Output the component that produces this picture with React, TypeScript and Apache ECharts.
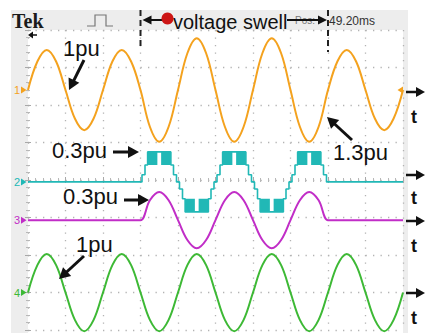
import React, { useEffect, useRef } from "react";
import * as echarts from "echarts";

// Time axis in screen divisions (10 div across, 1 cycle = 2 div)
const timeDiv = [0, 0.25, 0.5, 0.75, 1, 1.25, 1.5, 1.75, 2, 2.25, 2.5, 2.75, 3, 3.25, 3.5, 3.75, 4, 4.25, 4.5, 4.75, 5, 5.25, 5.5, 5.75, 6, 6.25, 6.5, 6.75, 7, 7.25, 7.5, 7.75, 8, 8.25, 8.5, 8.75, 9, 9.25, 9.5, 9.75, 10];

// CH1: grid voltage (1pu, swells to 1.3pu between the cursors) — divisions about its ground level
const ch1Values = [0, 0.76, 1.07, 0.76, 0, -0.76, -1.07, -0.76, 0, 0.76, 1.07, 0.76, 0, -0.98, -1.38, -0.98, 0, 0.98, 1.38, 0.98, 0, -0.98, -1.38, -0.98, 0, 0.98, 1.38, 0.98, 0, -0.98, -1.38, -0.98, 0, 0.76, 1.07, 0.76, 0, -0.76, -1.07, -0.76, 0];

// CH2: multilevel inverter output (stair steps)
const ch2StepTime = [0, 3.04, 3.12, 3.19, 3.81, 3.88, 3.96, 4.04, 4.12, 4.19, 4.81, 4.88, 4.96, 5.04, 5.12, 5.19, 5.81, 5.88, 5.96, 6.04, 6.12, 6.19, 6.81, 6.88, 6.96, 7.04, 7.12, 7.19, 7.81, 7.88, 7.96, 10];
const ch2StepLevel = [0, 0.19, 0.45, 0.8, 0.45, 0.19, 0, -0.19, -0.45, -0.8, -0.45, -0.19, 0, 0.19, 0.45, 0.8, 0.45, 0.19, 0, -0.19, -0.45, -0.8, -0.45, -0.19, 0, 0.19, 0.45, 0.8, 0.45, 0.19, 0, 0];
// CH2: PWM switching bands [start, end, low, high]
const ch2PwmBands = [
  [3.19, 3.45, 0.45, 0.8], [3.55, 3.81, 0.45, 0.8],
  [4.19, 4.45, -0.8, -0.45], [4.55, 4.81, -0.8, -0.45],
  [5.19, 5.45, 0.45, 0.8], [5.55, 5.81, 0.45, 0.8],
  [6.19, 6.45, -0.8, -0.45], [6.55, 6.81, -0.8, -0.45],
  [7.19, 7.45, 0.45, 0.8], [7.55, 7.81, 0.45, 0.8],
];

// CH3: injected voltage (0.3pu) during the swell
const ch3Values = [0, 0, 0, 0, 0, 0, 0, 0, 0, 0, 0, 0, 0, 0.53, 0.75, 0.53, 0, -0.53, -0.75, -0.53, 0, 0.53, 0.75, 0.53, 0, -0.53, -0.75, -0.53, 0, 0.53, 0.75, 0.53, 0, 0, 0, 0, 0, 0, 0, 0, 0];

// CH4: load voltage (1pu)
const ch4Values = [0, 0.73, 1.03, 0.73, 0, -0.73, -1.03, -0.73, 0, 0.73, 1.03, 0.73, 0, -0.73, -1.03, -0.73, 0, 0.73, 1.03, 0.73, 0, -0.73, -1.03, -0.73, 0, 0.73, 1.03, 0.73, 0, -0.73, -1.03, -0.73, 0, 0.73, 1.03, 0.73, 0, -0.73, -1.03, -0.73, 0];

// Channel ground-level positions (divisions from screen centre)
const channelPos = [2.4, -0.05, -1.07, -3.0];
const channelNames = ["1", "2", "3", "4"];
const swellCursors = [3, 8];

const ORANGE = "#F4A21E";
const CYAN = "#21B8B6";
const MAGENTA = "#C12DC7";
const GREEN = "#3DB935";
const channelColors = [ORANGE, CYAN, MAGENTA, GREEN];

function arrow(x1: number, y1: number, x2: number, y2: number, head = 11, hw = 6, lw = 3, color = "#111") {
  const dx = x2 - x1, dy = y2 - y1;
  const len = Math.sqrt(dx * dx + dy * dy);
  const ux = dx / len, uy = dy / len;
  const bx = x2 - ux * head, by = y2 - uy * head;
  const nx = -uy, ny = ux;
  return [
    { type: "line", z: 100, shape: { x1, y1, x2: bx + ux * 1, y2: by + uy * 1 }, style: { stroke: color, lineWidth: lw } },
    { type: "polygon", z: 100, shape: { points: [[x2, y2], [bx + nx * hw, by + ny * hw], [bx - nx * hw, by - ny * hw]] }, style: { fill: color } },
  ];
}

function label(text: string, x: number, baseline: number, size = 22) {
  return {
    type: "text", z: 100, x, y: baseline - size * 0.35,
    style: { text, fill: "#111", font: `${size}px "Liberation Sans", Arial, sans-serif`, align: "left", verticalAlign: "middle" },
  };
}

export default function App() {
  const ref = useRef<HTMLDivElement>(null);
  useEffect(() => {
    document.body.style.margin = "0";
    const chart = echarts.init(ref.current!, null, { renderer: "svg" });
    const dotted = { show: true, lineStyle: { color: "#b3b3b3", width: 1.3, type: [1.3, 6.2] } };
    const tick = { show: true, inside: true, length: 3, lineStyle: { color: "#a8a8a8" } };
    const minor = { show: true, splitNumber: 5, length: 2, lineStyle: { color: "#b8b8b8" } };
    const xAx = (pos: string, split: boolean) => ({
      type: "value", position: pos, min: 0, max: 10, interval: 1,
      axisLabel: { show: false }, axisLine: { show: false }, axisTick: tick, minorTick: minor,
      splitLine: split ? dotted : { show: false },
    });
    const yAx = (pos: string, split: boolean) => ({
      type: "value", position: pos, min: -4, max: 4, interval: 1,
      axisLabel: { show: false }, axisLine: { show: false }, axisTick: tick, minorTick: minor,
      splitLine: split ? dotted : { show: false },
    });

    const lineSeries = (values: number[], ch: number) => ({
      type: "line", xAxisIndex: 0, yAxisIndex: 0, showSymbol: false, smooth: 0.37, clip: false, z: 5,
      lineStyle: { color: channelColors[ch], width: 2 },
      data: timeDiv.map((t, i) => [t, values[i] + channelPos[ch]]),
    });

    chart.setOption({
      animation: false,
      backgroundColor: "#ffffff",
      grid: { left: 28, top: 30, width: 375, height: 300, containLabel: false },
      xAxis: [xAx("bottom", true), xAx("top", false)],
      yAxis: [yAx("left", true), yAx("right", false)],
      series: [
        lineSeries(ch1Values, 0),
        {
          type: "line", step: "end", showSymbol: false, clip: false, z: 5,
          lineStyle: { color: CYAN, width: 1.6 },
          data: ch2StepTime.map((t, i) => [t, ch2StepLevel[i] + channelPos[1]]),
        },
        {
          type: "custom", z: 5, clip: false,
          data: ch2PwmBands.map((b) => [b[0], b[1], b[2] + channelPos[1], b[3] + channelPos[1]]),
          encode: { x: [0, 1], y: [2, 3] },
          renderItem: (_p: any, api: any) => {
            const a = api.coord([api.value(0), api.value(3)]);
            const b = api.coord([api.value(1), api.value(2)]);
            return { type: "rect", shape: { x: a[0], y: a[1], width: b[0] - a[0], height: b[1] - a[1] }, style: { fill: CYAN } };
          },
        },
        lineSeries(ch3Values, 2),
        lineSeries(ch4Values, 3),
      ],
    });

    const px = (t: number) => chart.convertToPixel({ xAxisIndex: 0 }, t) as unknown as number;
    const py = (v: number) => chart.convertToPixel({ yAxisIndex: 0 }, v) as unknown as number;
    const xs = px(swellCursors[0]);
    const xe = px(swellCursors[1]);

    const graphic: any[] = [
      { type: "rect", z: -20, shape: { x: 11, y: 10, width: 397, height: 330 }, style: { fill: "#ededed" } },
      { type: "rect", z: -19, shape: { x: 28, y: 30, width: 375, height: 310 }, style: { fill: "#ffffff" } },
      { type: "text", z: 100, x: 12, y: 21, style: { text: "Tek", fill: "#1b1b1b", font: 'bold 20px "Liberation Serif", serif', verticalAlign: "middle" } },
      { type: "polyline", z: 100, shape: { points: [[87, 26], [95, 26], [95, 15], [106, 15], [106, 26], [113, 26]] }, style: { stroke: "#777", lineWidth: 1.2, fill: "none" } },
      ...arrow(37, 35, 28, 35, 5, 3.5, 1.5),
      { type: "line", z: 100, shape: { x1: xs, y1: 10, x2: xs, y2: 50 }, style: { stroke: "#222", lineWidth: 2, lineDash: [6, 4] } },
      { type: "line", z: 100, shape: { x1: xe, y1: 10, x2: xe, y2: 52 }, style: { stroke: "#222", lineWidth: 2, lineDash: [6, 4] } },
      { type: "text", z: 99, x: 295, y: 20, style: { text: "Pos:", fill: "#777", font: '10px "Liberation Sans", sans-serif', verticalAlign: "middle" } },
      ...arrow(172, 20, xs + 2, 20, 9, 4.5, 2),
      ...arrow(287, 20, xe - 1, 20, 9, 4.5, 2),
      { type: "circle", z: 101, shape: { cx: 167.5, cy: 18.5, r: 6 }, style: { fill: "#cc1414" } },
      { type: "text", z: 100, x: 173, y: 22, style: { text: "voltage swell", fill: "#111", font: '20px "Liberation Sans", Arial, sans-serif', verticalAlign: "middle" } },
      { type: "text", z: 100, x: xe + 1, y: 21, style: { text: "49.20ms", fill: "#333", font: '12px "Liberation Sans", sans-serif', verticalAlign: "middle" } },
      { type: "polygon", z: 100, shape: { points: [[403, py(channelPos[0]) - 3.5], [397.5, py(channelPos[0])], [403, py(channelPos[0]) + 3.5]] }, style: { fill: ORANGE } },
    ];

    channelPos.forEach((p, i) => {
      const y = py(p);
      graphic.push({ type: "text", z: 100, x: 17, y, style: { text: channelNames[i], fill: channelColors[i], font: '11px "Liberation Sans", sans-serif', align: "center", verticalAlign: "middle" } });
      graphic.push({ type: "polygon", z: 100, shape: { points: [[21, y - 3.5], [26.5, y], [21, y + 3.5]] }, style: { fill: channelColors[i] } });
    });

    const rightArrowY = [92, 175, 221, 293];
    const tLabelY = [117, 198, 246, 318];
    rightArrowY.forEach((y) => graphic.push(...arrow(406, y, 425, y, 9, 5, 2.5)));
    tLabelY.forEach((y) => graphic.push({ type: "text", z: 100, x: 414, y, style: { text: "t", fill: "#111", font: 'bold 18px "Liberation Sans", Arial, sans-serif', align: "center", verticalAlign: "middle" } }));

    graphic.push(label("1pu", 63, 56));
    graphic.push(...arrow(84, 60, 69, 90));
    graphic.push(label("0.3pu", 52, 158));
    graphic.push(...arrow(113, 152, 139, 152));
    graphic.push(label("0.3pu", 63, 204));
    graphic.push(...arrow(124, 200, 149, 200));
    graphic.push(label("1.3pu", 333, 160));
    graphic.push(...arrow(352, 140, 327, 117));
    graphic.push(label("1pu", 76, 252));
    graphic.push(...arrow(84, 256, 59, 279));

    chart.setOption({ graphic });
    return () => chart.dispose();
  }, []);
  return <div ref={ref} style={{ width: 425, height: 333 }} />;
}
